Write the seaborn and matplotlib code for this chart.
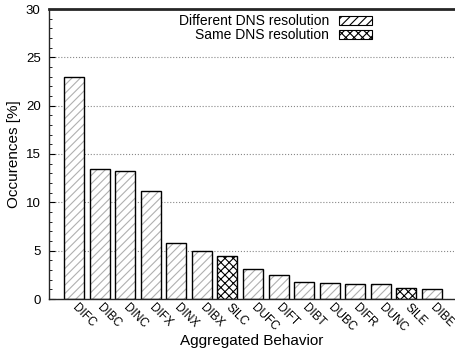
import numpy as np
import matplotlib
matplotlib.use("Agg")
import matplotlib.pyplot as plt
import seaborn as sns
from matplotlib.patches import Patch
from matplotlib.ticker import MultipleLocator

behaviors = ["DIFC", "DIBC", "DINC", "DIFX", "DINX", "DIBX", "SILC", "DUFC",
             "DIFT", "DIBT", "DUBC", "DIFR", "DUNC", "SILE", "DIBE"]
occurences = [23.0, 13.5, 13.2, 11.2, 5.8, 4.95, 4.5, 3.1,
              2.5, 1.75, 1.65, 1.55, 1.55, 1.1, 1.0]
same_dns = ["SILC", "SILE"]

sns.set_style("ticks")
plt.rcParams['font.family'] = ['Liberation Sans', 'DejaVu Sans']
plt.rcParams['hatch.linewidth'] = 0.8
for k in ["text.color", "axes.labelcolor", "xtick.color", "ytick.color"]:
    plt.rcParams[k] = "black"

fig = plt.figure(figsize=(4.56, 3.53), dpi=100)
ax = fig.add_axes([49 / 456, 54 / 353, 1.0 - 49 / 456, 290 / 353])

# hatch pass (grey lines), then outline pass (black edges)
sns.barplot(x=behaviors, y=occurences, color="white", width=0.78,
            linewidth=0, saturation=1, ax=ax)
for p, b in zip(ax.patches, behaviors):
    if b in same_dns:
        p.set_hatch("xxxx")
        p.set_edgecolor("black")
    else:
        p.set_hatch("////")
        p.set_edgecolor("#b0b0b0")
sns.barplot(x=behaviors, y=occurences, fill=False, width=0.78,
            edgecolor="black", linewidth=1.0, ax=ax)

ax.set_xlim(-0.978, 14.94)
ax.set_ylim(0, 30)
ax.yaxis.set_major_locator(MultipleLocator(5))
ax.yaxis.set_minor_locator(MultipleLocator(1))
ax.tick_params(axis="y", which="major", direction="in", length=4, labelsize=9.5, pad=6)
ax.tick_params(axis="y", which="minor", direction="in", length=2)
ax.tick_params(axis="x", length=0, labelsize=8.5, pad=5)
for lab in ax.get_xticklabels():
    lab.set_rotation(-45)
    lab.set_ha("left")
    lab.set_va("center")
    lab.set_rotation_mode("anchor")
ax.grid(axis="y", linestyle=":", color="#888888", linewidth=0.8)
ax.set_axisbelow(True)
for s in ["left", "bottom"]:
    ax.spines[s].set_linewidth(1.0)
ax.spines["top"].set_linewidth(2.0)
ax.spines["right"].set_visible(False)

ax.set_ylabel("Occurences [%]", fontsize=11)
ax.set_xlabel("Aggregated Behavior", fontsize=11)
ax.yaxis.set_label_coords(-(49 - 14) / 407, 0.5)
ax.yaxis.label.set_va("center")
ax.xaxis.set_label_coords((252 - 49) / 407, -(341 - 299) / 290)
ax.xaxis.label.set_va("center")

handles = [Patch(facecolor="white", edgecolor="black", hatch="////", linewidth=0.8),
           Patch(facecolor="white", edgecolor="black", hatch="xxxx", linewidth=0.8)]
ax.legend(handles, ["Different DNS resolution", "Same DNS resolution"],
          loc="upper right", bbox_to_anchor=(0.815, 1.01), frameon=False,
          markerfirst=False, fontsize=10, handlelength=2.4, handleheight=0.55,
          labelspacing=0.0, handletextpad=0.7, borderaxespad=0.2)

fig.savefig("out.png", dpi=100)
